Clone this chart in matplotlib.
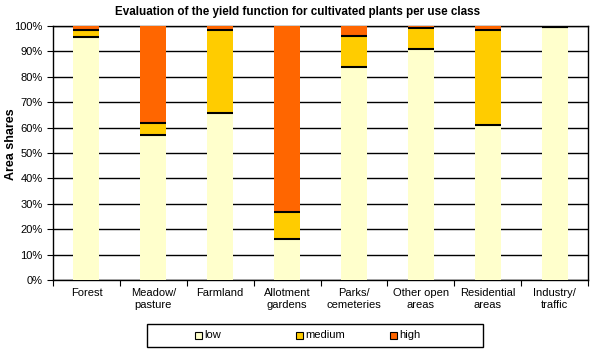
import matplotlib.pyplot as plt
from matplotlib.patches import Rectangle
import numpy as np

# share of area per yield class (in %)
categories = ['Forest', 'Meadow/\npasture', 'Farmland', 'Allotment\ngardens',
              'Parks/\ncemeteries', 'Other open\nareas', 'Residential\nareas',
              'Industry/\ntraffic']
low = [95.7, 57.1, 65.7, 16.0, 83.9, 90.9, 61.1, 99.6]
medium = [2.7, 4.7, 32.8, 10.9, 12.0, 8.3, 37.4, 0.2]
high = [1.6, 38.2, 1.5, 73.1, 4.1, 0.8, 1.5, 0.2]

colors = ['#FFFFCC', '#FFCC00', '#FF6600']
labels = ['low', 'medium', 'high']

plt.rcParams['font.family'] = ['Liberation Sans', 'DejaVu Sans']

W, H = 595, 350
fig = plt.figure(figsize=(W / 100, H / 100), dpi=100)
ax = fig.add_axes([53 / W, 70 / H, 535 / W, 254 / H])

x = np.arange(len(categories))
bottom = np.zeros(len(categories))
for vals, c, lab in zip([low, medium, high], colors, labels):
    ax.bar(x, vals, bottom=bottom, width=0.39, color=c, zorder=3, label=lab,
           edgecolor='none')
    bottom = bottom + np.array(vals)
    # dark line on top of each segment (not at 100%)
    for xi, top in zip(x, bottom):
        if top < 99.9:
            ax.hlines(top, xi - 0.195, xi + 0.195, color='black', lw=1.5, zorder=4)

ax.set_xlim(-0.5, len(categories) - 0.5)
ax.set_ylim(0, 100)
ax.set_yticks(np.arange(0, 101, 10))
ax.set_yticklabels([f'{v}%' for v in range(0, 101, 10)], fontsize=8)
ax.yaxis.grid(True, color='black', lw=1, zorder=0)
ax.set_axisbelow(True)

ax.set_xticks(np.arange(-0.5, len(categories), 1))
ax.set_xticklabels([])
ax.set_xticks(x, minor=True)
ax.set_xticklabels(categories, minor=True, fontsize=8)
ax.tick_params(axis='x', which='minor', length=0, pad=6)
ax.tick_params(axis='x', which='major', length=4, direction='out')
ax.tick_params(axis='y', length=4, direction='out')

for s in ax.spines.values():
    s.set_color('black')
    s.set_linewidth(1)

ax.set_ylabel('Area shares', fontsize=9, fontweight='bold')
ax.yaxis.label.set_verticalalignment('center')
ax.yaxis.set_label_coords(-42 / 535, 0.535)
fig.text(0.5, 1 - 12 / H, 'Evaluation of the yield function for cultivated plants per use class',
         ha='center', va='center', fontsize=8.4, fontweight='bold')

# legend box drawn by hand to match the spacing of the original
fig.patches.append(Rectangle((147 / W, 1 - 347 / H), 336 / W, 23 / H,
                             transform=fig.transFigure, facecolor='white',
                             edgecolor='black', lw=1))
ly = 1 - 335.5 / H
for lx, c, lab in zip([195, 296, 390], colors, labels):
    fig.patches.append(Rectangle((lx / W, ly - 3.5 / H), 7 / W, 7 / H,
                                 transform=fig.transFigure, facecolor=c,
                                 edgecolor='black', lw=0.8))
    fig.text((lx + 9) / W, ly, lab, fontsize=8, ha='left', va='center')

fig.savefig('out.png', dpi=100)
